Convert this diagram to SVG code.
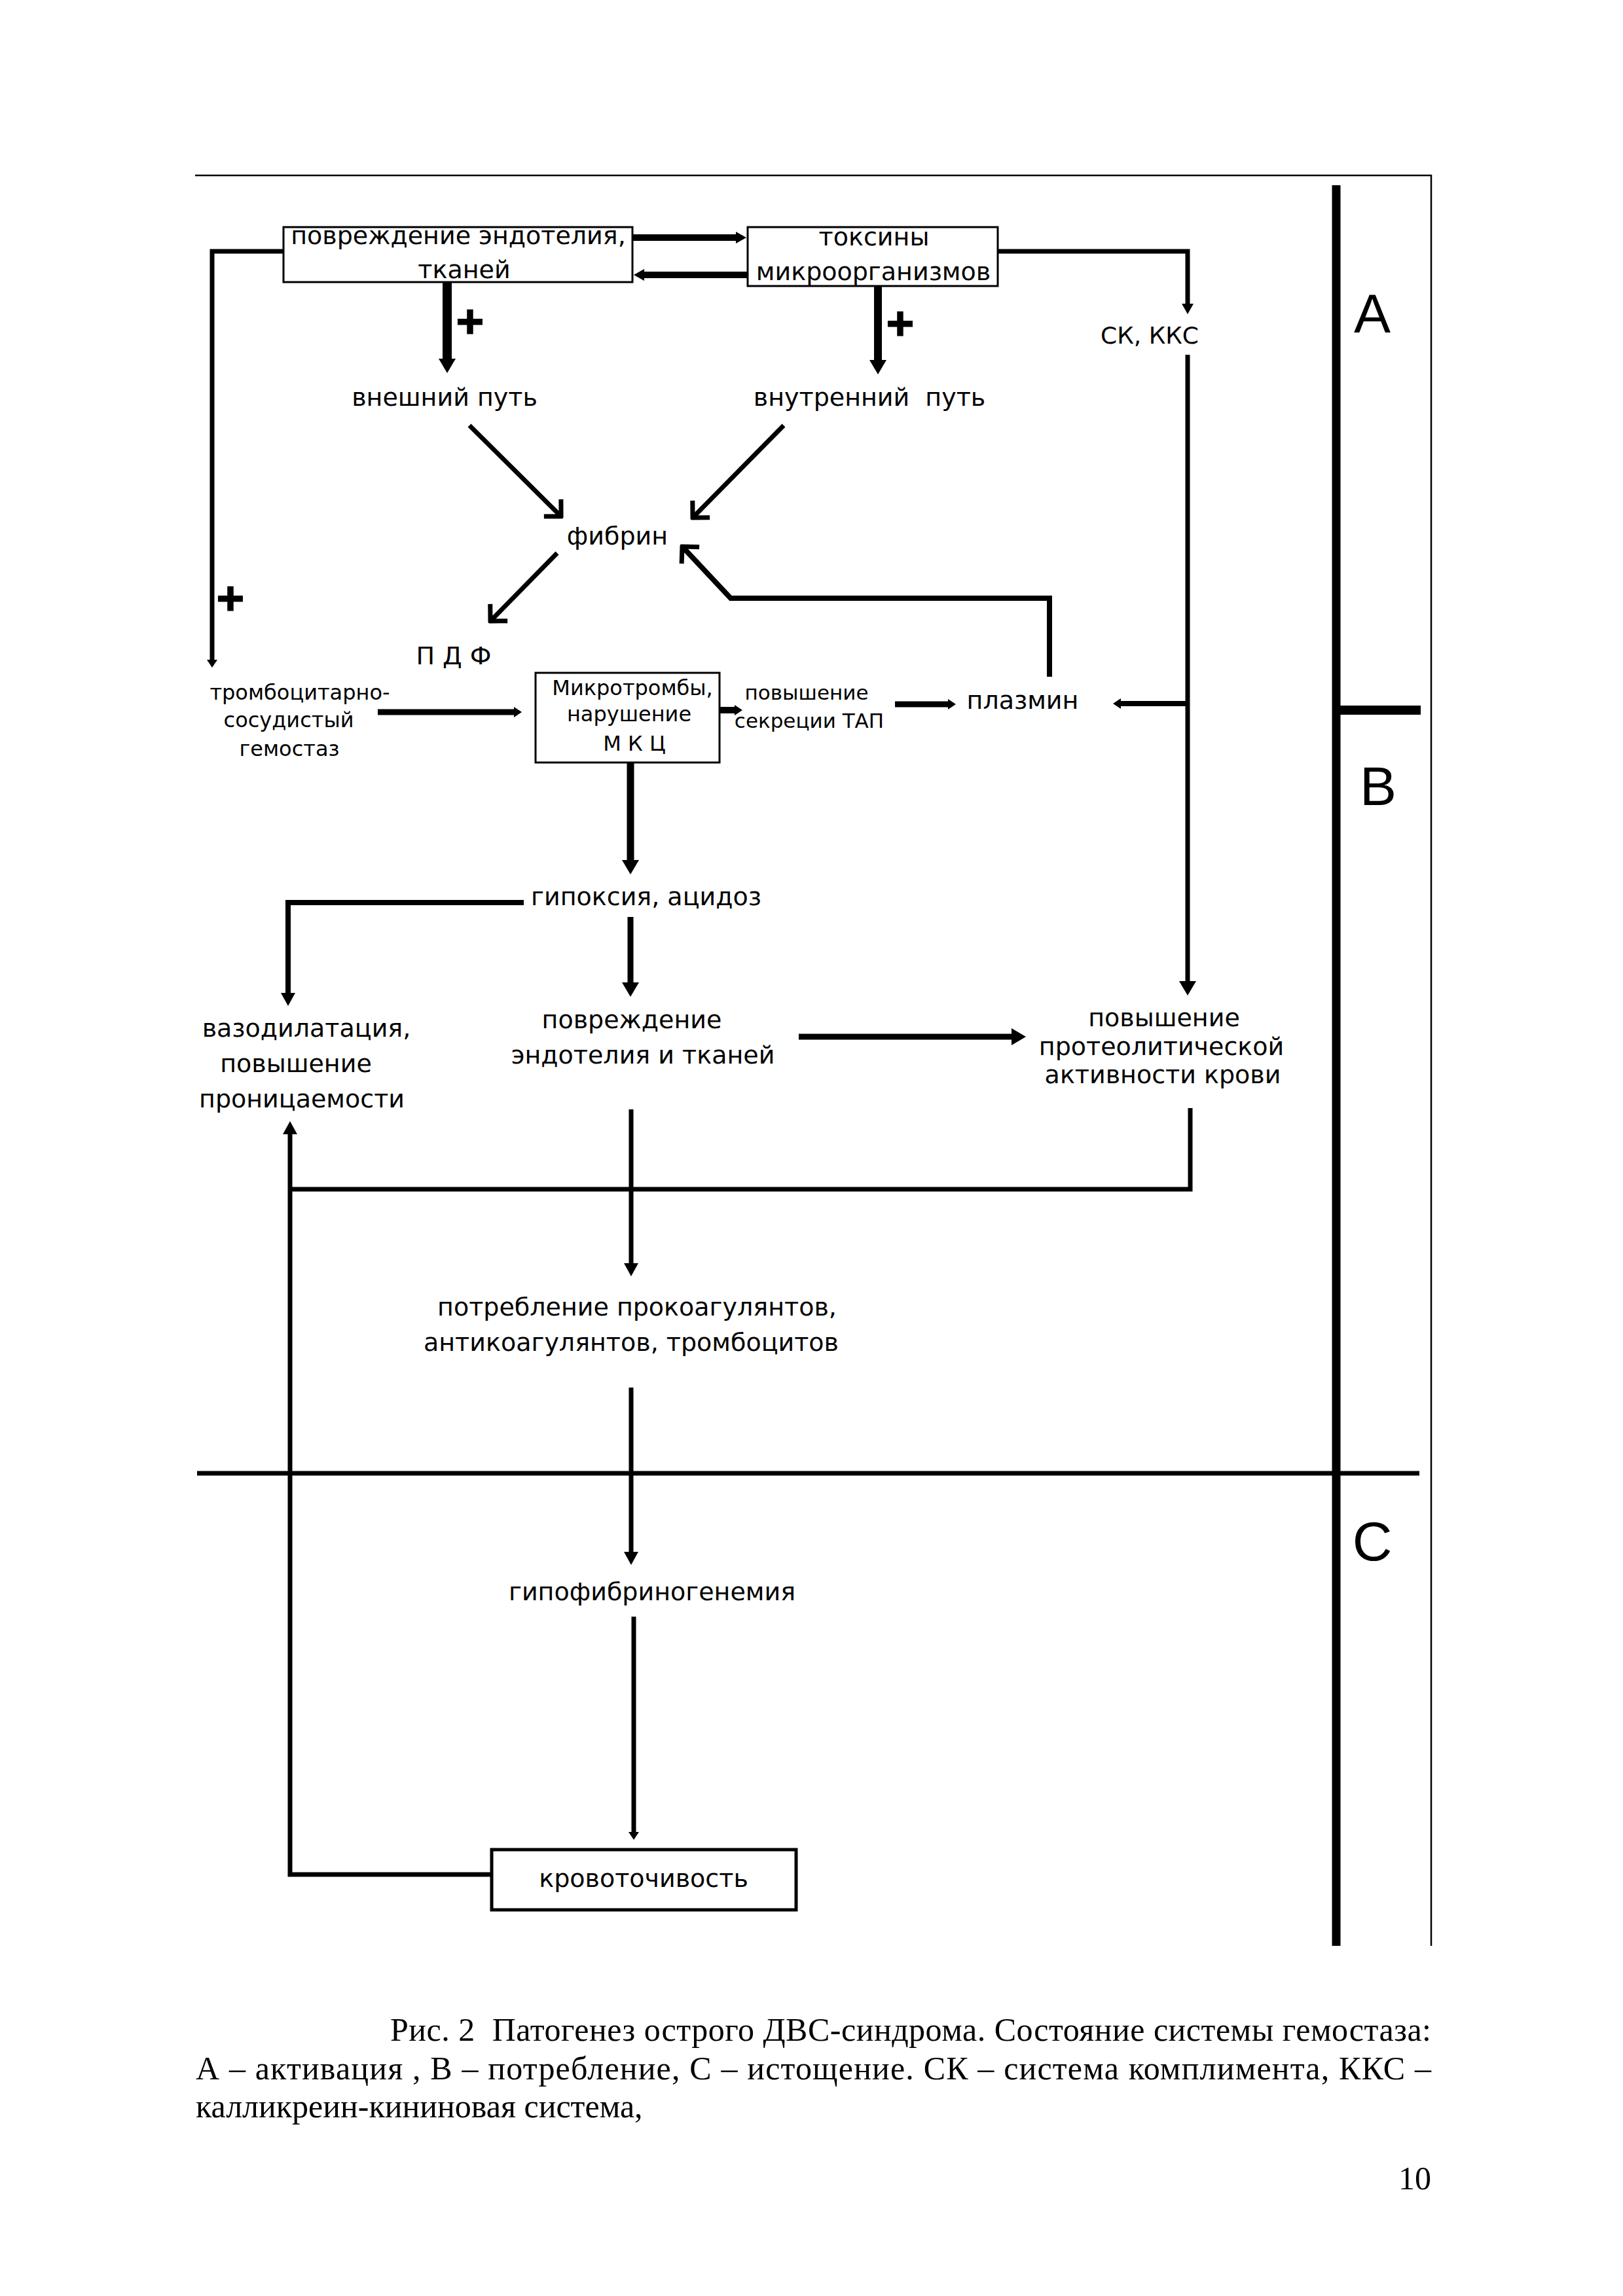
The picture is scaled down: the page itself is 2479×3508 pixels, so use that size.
<svg xmlns="http://www.w3.org/2000/svg" width="2479" height="3508" viewBox="0 0 2479 3508">
<style>
.t{font-family:"DejaVu Sans",sans-serif;font-size:38px;fill:#000;text-anchor:middle}
.s{font-size:32px}
.ss{font-size:31px}
.stage{font-family:"Liberation Sans",Arial,sans-serif;font-size:84px;fill:#000;text-anchor:middle}
.cap{font-family:"Liberation Serif","Times New Roman",serif;font-size:50px;fill:#000}
.box{fill:#fff;stroke:#000;stroke-width:3}
.c{fill:none;stroke:#000;stroke-linejoin:miter}
.plus{font-family:"DejaVu Sans",sans-serif;font-weight:bold;font-size:56px;fill:#000;stroke:#000;stroke-width:3;text-anchor:middle}
</style>
<defs>
<marker id="aT" viewBox="0 -14 24 28" refX="0" refY="0" markerWidth="24" markerHeight="28" markerUnits="userSpaceOnUse" orient="auto"><path d="M0,-13 L22,0 L0,13 z" fill="#000"/></marker>
<marker id="aM" viewBox="0 -12 22 24" refX="0" refY="0" markerWidth="22" markerHeight="24" markerUnits="userSpaceOnUse" orient="auto"><path d="M0,-11 L20,0 L0,11 z" fill="#000"/></marker>
<marker id="aS" viewBox="0 -10 18 20" refX="0" refY="0" markerWidth="18" markerHeight="20" markerUnits="userSpaceOnUse" orient="auto"><path d="M0,-9 L16,0 L0,9 z" fill="#000"/></marker>
<marker id="aX" viewBox="0 -9 14 18" refX="0" refY="0" markerWidth="14" markerHeight="18" markerUnits="userSpaceOnUse" orient="auto"><path d="M0,-8 L12,0 L0,8 z" fill="#000"/></marker>
<marker id="ch" viewBox="-22 -22 26 44" refX="0" refY="0" markerWidth="26" markerHeight="44" markerUnits="userSpaceOnUse" orient="auto"><path d="M-16,-16 L0,0 L-16,16" fill="none" stroke="#000" stroke-width="7" stroke-linecap="square"/></marker>
</defs>
<rect width="2479" height="3508" fill="#fff"/>

<g id="frame">
<path class="c" d="M298,268 H2186 V2973" stroke-width="2.5"/>
<path class="c" d="M2041,283 V2973" stroke-width="13"/>
<path class="c" d="M2041,1085 H2170" stroke-width="14"/>
<path class="c" d="M301,2251 H2168" stroke-width="7"/>
<text class="stage" x="2096" y="508">A</text>
<text class="stage" x="2105" y="1230">B</text>
<text class="stage" x="2096" y="2384">C</text>
</g>

<g id="connectors">
<path class="c" d="M966,363 H1124" stroke-width="10" marker-end="url(#aS)"/>
<path class="c" d="M1142,420 H984" stroke-width="10" marker-end="url(#aS)"/>
<path class="c" d="M433,384 H324 V1008" stroke-width="7" marker-end="url(#aX)"/>
<path class="c" d="M683,431 V548" stroke-width="14" marker-end="url(#aT)"/>
<path class="c" d="M1341,437 V550" stroke-width="12" marker-end="url(#aT)"/>
<path class="c" d="M1525,384 H1814 V464" stroke-width="7" marker-end="url(#aS)"/>
<path class="c" d="M1814,542 V1499" stroke-width="7" marker-end="url(#aT)"/>
<path class="c" d="M1814,1075 H1712" stroke-width="8" marker-end="url(#aX)"/>
<path class="c" d="M1603,1034 V914 H1116 L1042,835" stroke-width="8" marker-end="url(#ch)"/>
<path class="c" d="M717,650 L857,789" stroke-width="7" marker-end="url(#ch)"/>
<path class="c" d="M1197,650 L1058,791" stroke-width="7" marker-end="url(#ch)"/>
<path class="c" d="M851,845 L749,949" stroke-width="7" marker-end="url(#ch)"/>
<path class="c" d="M577,1088 H785" stroke-width="9" marker-end="url(#aX)"/>
<path class="c" d="M1099,1085 H1122" stroke-width="10" marker-end="url(#aX)"/>
<path class="c" d="M1367,1076 H1448" stroke-width="9" marker-end="url(#aX)"/>
<path class="c" d="M963,1164 V1314" stroke-width="11" marker-end="url(#aT)"/>
<path class="c" d="M800,1379 H440 V1517" stroke-width="8" marker-end="url(#aM)"/>
<path class="c" d="M963,1401 V1501" stroke-width="9" marker-end="url(#aT)"/>
<path class="c" d="M1220,1584 H1545" stroke-width="9" marker-end="url(#aT)"/>
<path class="c" d="M1818,1693 V1817 H441" stroke-width="7"/>
<path class="c" d="M964,1695 V1930" stroke-width="7" marker-end="url(#aM)"/>
<path class="c" d="M964,2120 V2371" stroke-width="7" marker-end="url(#aM)"/>
<path class="c" d="M968,2470 V2799" stroke-width="7" marker-end="url(#aX)"/>
<path class="c" d="M751,2864 H443 V1733" stroke-width="7" marker-end="url(#aM)"/>
<text class="plus" x="718" y="509">+</text>
<text class="plus" x="1375" y="512">+</text>
<text class="plus" x="352" y="932">+</text>
</g>

<g id="n-damage">
<rect class="box" x="433" y="347" width="533" height="84"/>
<text class="t" x="700" y="373">повреждение эндотелия,</text>
<text class="t" x="709" y="425">тканей</text>
</g>
<g id="n-toxins">
<rect class="box" x="1142" y="347" width="382" height="90"/>
<text class="t" x="1335" y="375">токсины</text>
<text class="t" x="1334" y="428">микроорганизмов</text>
</g>
<g id="n-extrinsic"><text class="t" x="679" y="620">внешний путь</text></g>
<g id="n-intrinsic"><text class="t" x="1328" y="620" xml:space="preserve">внутренний  путь</text></g>
<g id="n-sk"><text class="t" x="1756" y="525" style="font-size:36px">СК, ККС</text></g>
<g id="n-fibrin"><text class="t" x="943" y="832">фибрин</text></g>
<g id="n-pdf"><text class="t" x="693" y="1015">П Д Ф</text></g>
<g id="n-platelet">
<text class="t s" x="458" y="1069">тромбоцитарно-</text>
<text class="t s" x="441" y="1111">сосудистый</text>
<text class="t s" x="442" y="1155">гемостаз</text>
</g>
<g id="n-microthrombi">
<rect class="box" x="818" y="1028" width="281" height="137"/>
<text class="t s" x="966" y="1062">Микротромбы,</text>
<text class="t s" x="961" y="1102">нарушение</text>
<text class="t s" x="969" y="1147">М К Ц</text>
</g>
<g id="n-tap">
<text class="t ss" x="1232" y="1069">повышение</text>
<text class="t ss" x="1236" y="1112">секреции ТАП</text>
</g>
<g id="n-plasmin"><text class="t" x="1562" y="1083">плазмин</text></g>
<g id="n-hypoxia"><text class="t" x="987" y="1383">гипоксия, ацидоз</text></g>
<g id="n-vasodilation">
<text class="t" x="468" y="1584">вазодилатация,</text>
<text class="t" x="452" y="1638">повышение</text>
<text class="t" x="461" y="1692">проницаемости</text>
</g>
<g id="n-damage2">
<text class="t" x="965" y="1571">повреждение</text>
<text class="t" x="982" y="1625">эндотелия и тканей</text>
</g>
<g id="n-proteolytic">
<text class="t" x="1778" y="1568">повышение</text>
<text class="t" x="1774" y="1612">протеолитической</text>
<text class="t" x="1776" y="1655">активности крови</text>
</g>
<g id="n-consumption">
<text class="t" x="973" y="2010">потребление прокоагулянтов,</text>
<text class="t" x="964" y="2064">антикоагулянтов, тромбоцитов</text>
</g>
<g id="n-hypofib"><text class="t" x="996" y="2445">гипофибриногенемия</text></g>
<g id="n-bleeding">
<rect class="box" x="751" y="2826" width="465" height="92" style="stroke-width:5"/>
<text class="t" x="983" y="2883">кровоточивость</text>
</g>

<g id="caption">
<text class="cap" x="596" y="3118" textLength="1590" lengthAdjust="spacing" xml:space="preserve">Рис. 2  Патогенез острого ДВС-синдрома. Состояние системы гемостаза:</text>
<text class="cap" x="299" y="3177" textLength="1887" lengthAdjust="spacing">А – активация , В – потребление, С – истощение. СК – система комплимента, ККС –</text>
<text class="cap" x="299" y="3235">калликреин-кининовая система,</text>
<text class="cap" x="2186" y="3345" style="text-anchor:end">10</text>
</g>
</svg>
